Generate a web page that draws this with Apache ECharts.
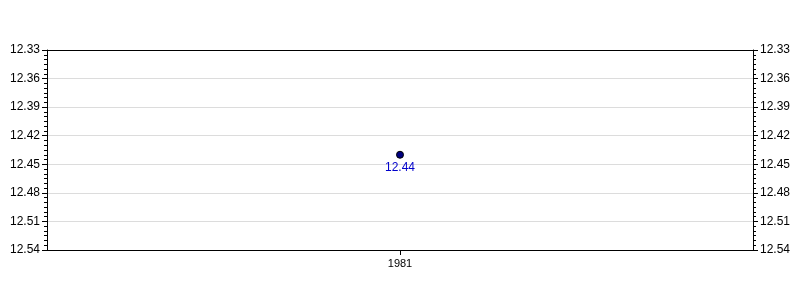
<!DOCTYPE html>
<html><head><meta charset="utf-8">
<script src="https://cdn.jsdelivr.net/npm/echarts@6/dist/echarts.min.js"></script>
<style>html,body{margin:0;padding:0;background:#fff}#c{width:800px;height:300px}</style>
</head><body><div id="c"></div>
<script>
const categories = ['1981'];
const values = [12.44];
const yMin = 12.33, yMax = 12.54, yStep = 0.03;

const chart = echarts.init(document.getElementById('c'), null, {renderer: 'canvas'});
const font = 'Liberation Sans, Arial, sans-serif';
function yAxisDef(pos, showGrid) {
  return {
    type: 'value', position: pos, inverse: true,
    min: yMin, max: yMax, interval: yStep,
    axisLine: {show: true, lineStyle: {color: '#000', width: 1}},
    axisTick: {show: true, length: 5, lineStyle: {color: '#000'}},
    minorTick: {show: true, splitNumber: 6, length: 3, lineStyle: {color: '#000'}},
    axisLabel: {color: '#000', fontFamily: font, fontSize: 12, margin: 7,
      formatter: v => v.toFixed(2)},
    splitLine: {show: showGrid, lineStyle: {color: '#dcdcdc', width: 1}}
  };
}
chart.setOption({
  animation: false,
  grid: {left: 47, right: 47, top: 50, bottom: 50},
  xAxis: [{
    type: 'category', data: categories, boundaryGap: true, position: 'bottom',
    axisLine: {show: true, lineStyle: {color: '#000'}},
    axisTick: {show: true, alignWithLabel: true, length: 5, lineStyle: {color: '#000'}},
    axisLabel: {color: '#000', fontFamily: font, fontSize: 11, margin: 8},
    splitLine: {show: false}
  }, {
    type: 'category', data: categories, boundaryGap: true, position: 'top',
    axisLine: {show: true, lineStyle: {color: '#000'}},
    axisTick: {show: false}, axisLabel: {show: false}, splitLine: {show: false}
  }],
  yAxis: [yAxisDef('left', true), yAxisDef('right', false)],
  series: [{
    type: 'line', data: values, yAxisIndex: 0, xAxisIndex: 0,
    symbol: 'circle', symbolSize: 7,
    itemStyle: {color: '#000080', borderColor: '#000', borderWidth: 1},
    lineStyle: {color: '#000080'},
    label: {show: true, position: 'bottom', distance: 3, color: '#0000cc',
      fontFamily: font, fontSize: 12, formatter: p => p.value.toFixed(2)}
  }]
});
</script></body></html>
